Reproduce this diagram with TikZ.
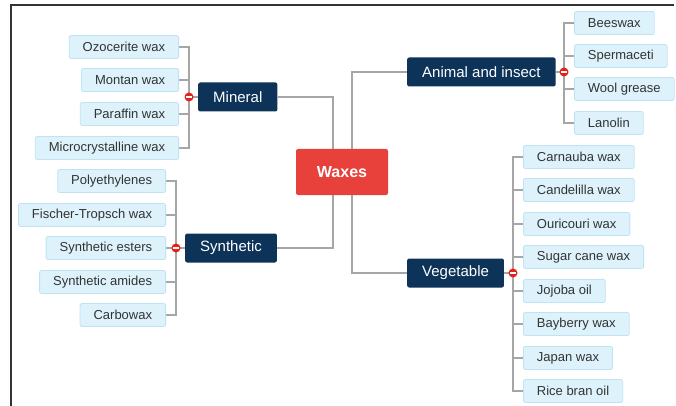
\documentclass[tikz,border=0pt]{standalone}
\usepackage{fontspec}
\setmainfont{Liberation Sans}
\usepackage{tikz}
\pgfdeclarelayer{bg}
\pgfsetlayers{bg,main}
\definecolor{navy}{HTML}{0D3359}
\definecolor{waxred}{HTML}{E8413B}
\definecolor{leaffill}{HTML}{DDF2FB}
\definecolor{leafline}{HTML}{BFE3F2}
\definecolor{conn}{HTML}{A6A6A6}
\definecolor{dotred}{HTML}{E8201A}
\tikzset{
  leaf/.style={draw=leafline, fill=leaffill, rounded corners=2pt, line width=0.8pt,
    font=\fontsize{13}{15}\selectfont, text=black!80, inner xsep=13.5pt, inner ysep=0pt,
    minimum height=23pt},
  leafl/.style={leaf, anchor=east},
  leafr/.style={leaf, anchor=west},
  group/.style={fill=navy, rounded corners=2pt, text=white,
    font=\fontsize{15}{17}\selectfont, inner xsep=15pt, inner ysep=0pt, minimum height=29pt},
  root/.style={fill=waxred, rounded corners=2pt, text=white,
    font=\bfseries\fontsize{16}{18}\selectfont, minimum width=92pt, minimum height=46pt},
  minus/.style={circle, fill=dotred, minimum size=9pt, inner sep=0pt,
    path picture={\fill[white] ([xshift=-3pt,yshift=-1pt]path picture bounding box.center) rectangle ++(6pt,2pt);}},
  link/.style={draw=conn, line width=1.6pt}
}
\begin{document}
\begin{tikzpicture}[x=1pt,y=-1pt]
  \useasboundingbox (0,0) rectangle (676,406);
  \draw [line width=1.5pt, black!80] (11,406) -- (11,5) -- (674,5);

  \node (wax) [root] at (342,172) {Waxes};

  \node (min) [group, anchor=west] at (198,97) {Mineral};
  \node (syn) [group, anchor=west] at (185,248) {Synthetic};
  \node (ani) [group, anchor=west] at (407,72) {Animal and insect};
  \node (veg) [group, anchor=west] at (407,273) {Vegetable};

  % mineral
  \node (ozo) [leafl] at (179,47) {Ozocerite wax};
  \node (mon) [leafl] at (179,80) {Montan wax};
  \node (par) [leafl] at (179,114) {Paraffin wax};
  \node (mic) [leafl] at (179,148) {Microcrystalline wax};
  % synthetic
  \node (pol) [leafl] at (166,181) {Polyethylenes};
  \node (fis) [leafl] at (166,215) {Fischer-Tropsch wax};
  \node (est) [leafl] at (166,248) {Synthetic esters};
  \node (ami) [leafl] at (166,282) {Synthetic amides};
  \node (car) [leafl] at (166,315) {Carbowax};
  % animal and insect
  \node (bee) [leafr] at (574,23) {Beeswax};
  \node (spe) [leafr] at (574,56) {Spermaceti};
  \node (woo) [leafr] at (574,89) {Wool grease};
  \node (lan) [leafr] at (574,123) {Lanolin};
  % vegetable
  \node (cna) [leafr] at (523,157) {Carnauba wax};
  \node (cnd) [leafr] at (523,190) {Candelilla wax};
  \node (our) [leafr] at (523,224) {Ouricouri wax};
  \node (sug) [leafr] at (523,257) {Sugar cane wax};
  \node (joj) [leafr] at (523,291) {Jojoba oil};
  \node (bay) [leafr] at (523,324) {Bayberry wax};
  \node (jap) [leafr] at (523,358) {Japan wax};
  \node (ric) [leafr] at (523,391) {Rice bran oil};

  \coordinate (mbar) at (189,97);
  \coordinate (sbar) at (176,248);
  \coordinate (abar) at (564,72);
  \coordinate (vbar) at (513,273);

  \begin{pgfonlayer}{bg}
    \draw [link] (min.east) -| ([xshift=-9pt]wax.north);
    \draw [link] (syn.east) -| ([xshift=-9pt]wax.south);
    \draw [link] (ani.west) -| ([xshift=10pt]wax.north);
    \draw [link] (veg.west) -| ([xshift=10pt]wax.south);
    \foreach \n in {ozo,mon,par,mic}
      \draw [link] (\n.east) -| (mbar);
    \draw [link] (mbar) -- (min.west);
    \foreach \n in {pol,fis,est,ami,car}
      \draw [link] (\n.east) -| (sbar);
    \draw [link] (sbar) -- (syn.west);
    \foreach \n in {bee,spe,woo,lan}
      \draw [link] (\n.west) -| (abar);
    \draw [link] (abar) -- (ani.east);
    \foreach \n in {cna,cnd,our,sug,joj,bay,jap,ric}
      \draw [link] (\n.west) -| (vbar);
    \draw [link] (vbar) -- (veg.east);
  \end{pgfonlayer}

  \node (mdot) [minus] at (mbar) {};
  \node (sdot) [minus] at (sbar) {};
  \node (adot) [minus] at (abar) {};
  \node (vdot) [minus] at (vbar) {};
\end{tikzpicture}
\end{document}
